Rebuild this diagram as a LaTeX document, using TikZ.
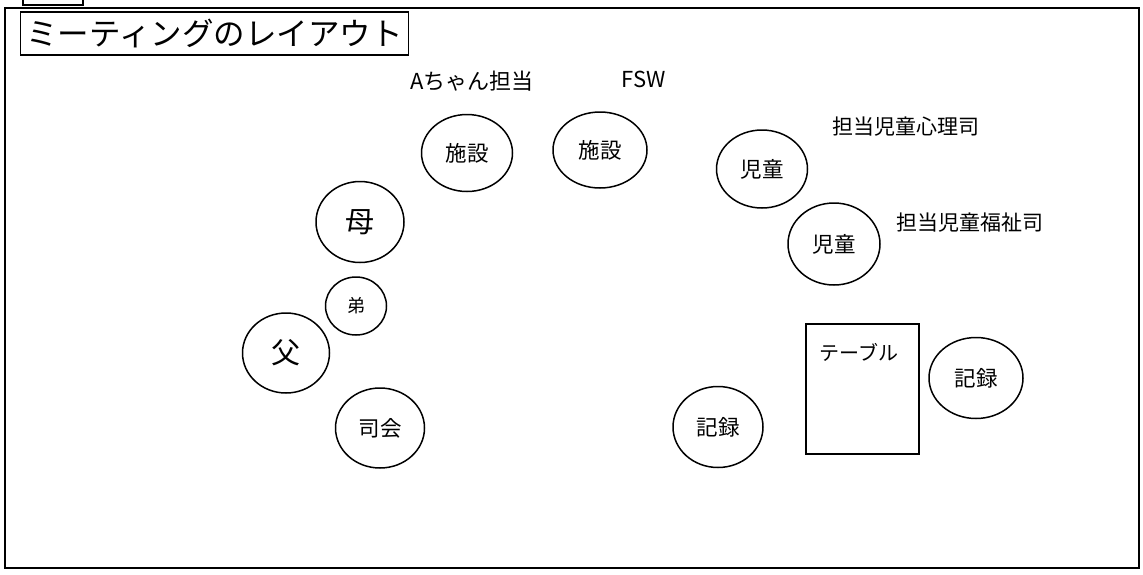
\documentclass[tikz,border=0pt]{standalone}
\usepackage{fontspec}
\setmainfont{Noto Sans CJK JP}
\usetikzlibrary{shapes.geometric}
\begin{document}
\begin{tikzpicture}[x=1pt,y=-1pt,
  ln/.style={line width=1.5pt},
  seat/.style={ln,draw,ellipse,inner sep=0pt,font=\fontsize{21.5}{23}\selectfont},
  lbl/.style={inner sep=0pt,font=\fontsize{21}{23}\selectfont}]
\useasboundingbox (0,0) rectangle (1143,574);
% outer frame and tab
\draw[ln] (5,8) rectangle (1139,568);
\draw[ln] (23,0) -- (23,5) -- (83,5) -- (83,0);
% title
\node[ln,draw,minimum width=388pt,minimum height=43pt,inner sep=0pt,
  font=\fontsize{31.5}{33}\selectfont] (title) at (214.5,33.5) {ミーティングのレイアウト};
% labels
\node[lbl,font=\fontsize{22}{23}\selectfont] (lA) at (472,81) {Aちゃん担当};
\node[lbl,font=\fontsize{22}{23}\selectfont] (lF) at (644,79) {FSW};
\node[lbl] (lP) at (906,127) {担当児童心理司};
\node[lbl] (lW) at (970,223) {担当児童福祉司};
% seats
\node[seat,minimum width=91pt,minimum height=77pt] (s1) at (467,153) {施設};
\node[seat,minimum width=94pt,minimum height=76pt] (s2) at (600,150) {施設};
\node[seat,minimum width=91pt,minimum height=78pt] (c1) at (762,169) {児童};
\node[seat,minimum width=92pt,minimum height=82pt] (c2) at (834,244) {児童};
\node[seat,minimum width=88pt,minimum height=81pt,font=\fontsize{29}{31}\selectfont] (mo) at (360,222) {母};
\node[seat,minimum width=61pt,minimum height=58pt,font=\fontsize{18}{20}\selectfont] (br) at (356,306) {弟};
\node[seat,minimum width=87pt,minimum height=80pt,font=\fontsize{29}{31}\selectfont] (fa) at (286,353) {父};
\node[seat,minimum width=89pt,minimum height=80pt] (mc) at (380,428) {司会};
\node[seat,minimum width=90pt,minimum height=81pt] (r1) at (718,427) {記録};
\node[seat,minimum width=94pt,minimum height=81pt] (r2) at (976,378) {記録};
% table
\node[ln,draw,minimum width=113pt,minimum height=130pt,inner sep=0pt] (tb) at (862.5,389) {};
\node[lbl,font=\fontsize{20}{22}\selectfont] (tbl) at (859,352) {テーブル};
\end{tikzpicture}
\end{document}
